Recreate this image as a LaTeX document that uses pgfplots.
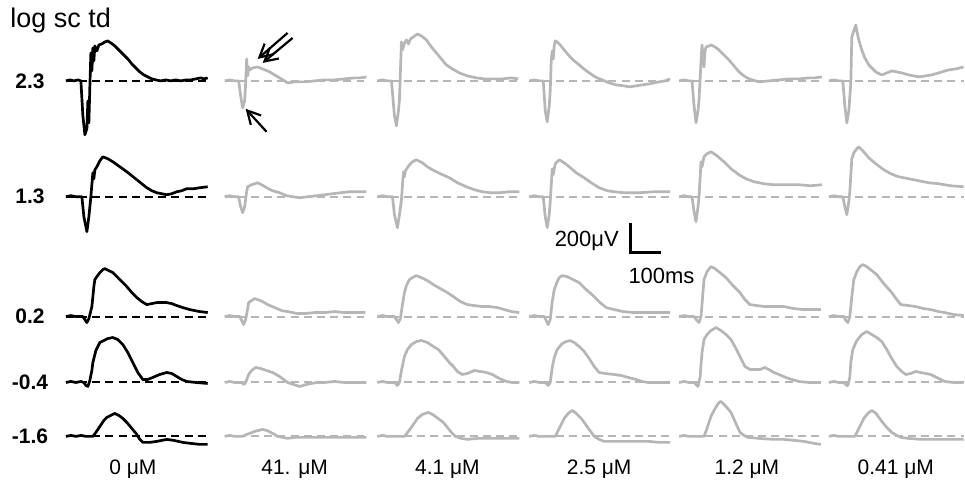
\documentclass[border=0pt]{standalone}
\usepackage{pgfplots}
\pgfplotsset{compat=1.18}
\usepackage{fontspec}
\setmainfont{Liberation Sans}
\usetikzlibrary{arrows.meta}
\definecolor{tr}{RGB}{182,182,182}

% one trace: colour, column start, baseline, rows "t v\\"
\newcommand{\trace}[4]{%
  \addplot[#1, line width=1.35pt, line join=round] table[row sep=\\, x expr=\thisrow{t}+#2, y expr=#3-\thisrow{v}] {t v\\ #4};
}
% dashed baseline: colour, x from, x to, y
\newcommand{\base}[4]{%
  \addplot[#1, line width=1pt, dash pattern=on 4pt off 2.6pt] coordinates {(#2,#4) (#3,#4)};
}
% baselines of one grey column
\newcommand{\greycol}[2]{%
  \base{tr}{#1}{#2}{81}\base{tr}{#1}{#2}{197}\base{tr}{#1}{#2}{317}\base{tr}{#1}{#2}{383}\base{tr}{#1}{#2}{437}%
}

\begin{document}
\begin{tikzpicture}
\begin{axis}[
  x=0.5pt, y=0.5pt, y dir=reverse,
  xmin=0, xmax=965, ymin=0, ymax=483,
  hide axis, clip=false, scale only axis,
]
\path (axis cs:0,0) rectangle (axis cs:965,483);

%% baselines
\base{black}{66}{208}{81}
\base{black}{66}{208}{197}
\base{black}{66}{208}{317}
\base{black}{66}{208}{383}
\base{black}{66}{208}{437}
\greycol{225}{367}
\greycol{378}{520}
\greycol{530}{671}
\greycol{680}{823}
\greycol{830}{965}

%% row 2.3
\trace{black}{66}{81}{0 0\\ 4 1\\ 8 0\\ 12 1\\ 15 0\\ 17 -35\\ 19 -54\\ 21 -48\\ 22 -20\\ 23 -42\\ 24 -5\\ 25 28\\ 26 10\\ 27 33\\ 28 20\\ 29 35\\ 31 30\\ 33 36\\ 36 37\\ 39 39\\ 42 40\\ 45 38\\ 49 35\\ 54 30\\ 58 26\\ 62 22\\ 66 17\\ 70 13\\ 74 9\\ 78 6\\ 82 4\\ 86 2\\ 90 1\\ 95 0\\ 100 1\\ 105 0\\ 110 1\\ 115 0\\ 120 1\\ 125 1\\ 130 2\\ 135 3\\ 138 2\\ 142 3\\}
\trace{tr}{225}{81}{0 0\\ 5 1\\ 10 0\\ 14 0\\ 16 -15\\ 18 -27\\ 20 -20\\ 21 -2\\ 22 22\\ 23 5\\ 24 14\\ 25 11\\ 28 13\\ 33 14\\ 38 12\\ 45 9\\ 50 6\\ 55 3\\ 60 0\\ 63 -2\\ 70 -1\\ 80 -1\\ 90 0\\ 100 1\\ 110 1\\ 120 2\\ 130 3\\ 136 3\\ 142 4\\}
\trace{tr}{378}{81}{0 0\\ 5 1\\ 10 0\\ 14 0\\ 17 -35\\ 19 -45\\ 21 -30\\ 22 -19\\ 23 10\\ 24 39\\ 25 31\\ 27 38\\ 29 41\\ 31 37\\ 33 42\\ 36 44\\ 40 47\\ 44 45\\ 49 41\\ 54 34\\ 59 28\\ 64 22\\ 69 16\\ 75 12\\ 82 8\\ 90 5\\ 99 3\\ 107 2\\ 115 2\\ 125 2\\ 134 3\\ 141 2\\}
\trace{tr}{530}{81}{0 0\\ 5 1\\ 10 0\\ 14 0\\ 16 -30\\ 18 -41\\ 20 -25\\ 21 -10\\ 22 20\\ 23 30\\ 24 22\\ 25 35\\ 26 40\\ 28 39\\ 31 36\\ 35 31\\ 40 25\\ 45 20\\ 50 16\\ 56 11\\ 63 6\\ 68 3\\ 73 1\\ 80 -2\\ 87 -4\\ 95 -5\\ 100 -6\\ 107 -5\\ 113 -4\\ 120 -3\\ 130 -1\\ 136 0\\ 141 2\\}
\trace{tr}{680}{81}{0 0\\ 5 1\\ 10 0\\ 13 0\\ 15 -25\\ 17 -42\\ 19 -30\\ 20 -19\\ 22 20\\ 23 36\\ 24 25\\ 25 14\\ 26 30\\ 27 34\\ 30 35\\ 32 36\\ 36 34\\ 40 31\\ 45 26\\ 50 21\\ 55 15\\ 60 9\\ 65 5\\ 70 2\\ 80 -1\\ 90 0\\ 100 1\\ 110 2\\ 120 2\\ 130 3\\ 136 3\\ 143 4\\}
\trace{tr}{830}{81}{0 0\\ 5 1\\ 10 0\\ 14 0\\ 16 -25\\ 18 -42\\ 20 -30\\ 22 -2\\ 23 44\\ 25 50\\ 27 56\\ 28 50\\ 30 41\\ 33 31\\ 36 23\\ 40 16\\ 44 12\\ 47 9\\ 53 6\\ 58 8\\ 63 10\\ 68 9\\ 73 8\\ 80 6\\ 90 4\\ 97 5\\ 103 6\\ 110 8\\ 120 11\\ 127 12\\ 135 14\\}

%% row 1.3
\trace{black}{66}{197}{0 0\\ 5 1\\ 10 0\\ 16 0\\ 18 -20\\ 21 -35\\ 23 -20\\ 25 0\\ 27 24\\ 28 18\\ 29 27\\ 31 30\\ 34 36\\ 37 40\\ 42 38\\ 47 35\\ 54 30\\ 61 25\\ 66 21\\ 71 17\\ 76 13\\ 81 9\\ 86 6\\ 91 4\\ 96 3\\ 101 2\\ 106 3\\ 111 5\\ 116 6\\ 121 8\\ 128 8\\ 134 9\\ 142 10\\}
\trace{tr}{225}{197}{0 0\\ 5 1\\ 10 0\\ 14 0\\ 16 -10\\ 18 -16\\ 20 -10\\ 22 5\\ 23 10\\ 27 12\\ 30 13\\ 33 14\\ 37 12\\ 42 9\\ 48 6\\ 55 4\\ 62 1\\ 68 0\\ 75 -1\\ 83 0\\ 92 1\\ 100 2\\ 108 3\\ 116 4\\ 125 5\\ 133 5\\ 142 5\\}
\trace{tr}{378}{197}{0 0\\ 5 1\\ 10 0\\ 15 0\\ 17 -18\\ 20 -31\\ 22 -18\\ 24 -3\\ 26 25\\ 27 20\\ 28 26\\ 30 29\\ 32 32\\ 35 35\\ 39 37\\ 45 34\\ 50 30\\ 55 27\\ 63 23\\ 72 19\\ 80 14\\ 89 10\\ 97 7\\ 105 5\\ 113 4\\ 122 4\\ 132 5\\ 142 5\\}
\trace{tr}{530}{197}{0 0\\ 5 1\\ 10 0\\ 14 0\\ 16 -20\\ 18 -31\\ 20 -18\\ 21 -5\\ 23 28\\ 24 22\\ 26 33\\ 30 37\\ 35 34\\ 40 30\\ 47 24\\ 55 19\\ 62 14\\ 70 9\\ 78 6\\ 85 5\\ 95 4\\ 110 4\\ 125 5\\ 141 5\\}
\trace{tr}{680}{197}{0 0\\ 5 1\\ 10 0\\ 13 0\\ 15 -15\\ 17 -25\\ 19 -10\\ 20 0\\ 22 35\\ 23 30\\ 25 40\\ 28 43\\ 32 45\\ 38 41\\ 45 35\\ 52 28\\ 60 22\\ 67 18\\ 75 15\\ 85 13\\ 95 12\\ 108 12\\ 120 12\\ 132 11\\ 143 12\\}
\trace{tr}{830}{197}{0 0\\ 5 1\\ 10 0\\ 14 0\\ 16 -10\\ 18 -18\\ 20 -5\\ 21 5\\ 23 38\\ 25 44\\ 28 48\\ 30 50\\ 34 46\\ 40 39\\ 47 33\\ 55 27\\ 62 23\\ 70 20\\ 80 18\\ 90 16\\ 100 14\\ 110 13\\ 122 11\\ 135 10\\}

%% row 0.2
\trace{black}{66}{317}{0 0\\ 5 1\\ 10 0\\ 17 0\\ 19 -3\\ 21 -6\\ 23 -2\\ 25 6\\ 26 10\\ 28 30\\ 29 37\\ 31 40\\ 34 44\\ 37 47\\ 39 48\\ 43 46\\ 47 44\\ 54 37\\ 61 30\\ 66 24\\ 71 19\\ 76 15\\ 81 12\\ 86 13\\ 91 14\\ 96 14\\ 101 14\\ 106 13\\ 111 11\\ 117 9\\ 124 7\\ 134 5\\ 142 4\\}
\trace{tr}{225}{317}{0 0\\ 5 1\\ 10 0\\ 15 0\\ 17 -4\\ 19 -8\\ 21 -3\\ 23 8\\ 24 14\\ 27 16\\ 30 18\\ 33 17\\ 38 15\\ 43 12\\ 50 9\\ 57 6\\ 63 5\\ 68 4\\ 73 3\\ 80 3\\ 90 4\\ 100 4\\ 110 5\\ 120 4\\ 130 4\\ 141 4\\}
\trace{tr}{378}{317}{0 0\\ 5 1\\ 10 0\\ 17 0\\ 19 -3\\ 21 -6\\ 23 -2\\ 25 12\\ 27 24\\ 29 31\\ 32 37\\ 35 39\\ 39 41\\ 44 39\\ 50 36\\ 56 32\\ 63 28\\ 70 24\\ 76 20\\ 83 15\\ 90 12\\ 97 11\\ 105 10\\ 112 10\\ 120 9\\ 127 7\\ 134 5\\ 142 4\\}
\trace{tr}{530}{317}{0 0\\ 5 1\\ 10 0\\ 15 0\\ 17 -4\\ 19 -8\\ 21 -3\\ 23 15\\ 25 27\\ 28 35\\ 30 39\\ 33 41\\ 38 40\\ 44 37\\ 50 34\\ 57 27\\ 65 20\\ 71 14\\ 77 9\\ 85 7\\ 94 5\\ 105 4\\ 119 4\\ 130 4\\ 141 4\\}
\trace{tr}{680}{317}{0 0\\ 5 1\\ 10 0\\ 15 0\\ 18 -4\\ 20 -6\\ 22 0\\ 24 25\\ 25 37\\ 28 45\\ 32 50\\ 36 48\\ 41 44\\ 47 39\\ 54 31\\ 61 24\\ 66 17\\ 71 12\\ 78 11\\ 86 10\\ 95 10\\ 105 10\\ 115 8\\ 125 7\\ 135 7\\ 142 7\\}
\trace{tr}{830}{317}{0 0\\ 5 1\\ 10 0\\ 15 0\\ 17 -4\\ 19 -6\\ 21 0\\ 23 20\\ 25 37\\ 28 45\\ 31 50\\ 34 52\\ 38 50\\ 43 46\\ 48 42\\ 55 33\\ 63 24\\ 68 17\\ 72 12\\ 80 11\\ 87 10\\ 95 8\\ 102 7\\ 110 5\\ 116 4\\ 125 2\\ 135 1\\}

%% row -0.4
\trace{black}{66}{383}{0 0\\ 5 1\\ 10 0\\ 15 1\\ 18 0\\ 20 -3\\ 22 -4\\ 24 2\\ 26 12\\ 27 20\\ 30 32\\ 34 40\\ 38 42\\ 42 44\\ 47 45\\ 52 43\\ 57 38\\ 62 30\\ 67 20\\ 72 10\\ 77 3\\ 82 3\\ 87 5\\ 94 8\\ 101 10\\ 106 9\\ 111 6\\ 116 3\\ 121 1\\ 130 0\\ 142 -1\\}
\trace{tr}{225}{383}{0 0\\ 5 1\\ 10 0\\ 17 0\\ 19 -2\\ 21 0\\ 24 8\\ 27 12\\ 31 15\\ 36 14\\ 42 12\\ 48 10\\ 55 6\\ 63 0\\ 69 -2\\ 75 -4\\ 82 -2\\ 92 0\\ 100 0\\ 110 1\\ 120 0\\ 130 0\\ 142 0\\}
\trace{tr}{378}{383}{0 0\\ 5 1\\ 10 0\\ 17 0\\ 20 -3\\ 22 0\\ 24 12\\ 27 26\\ 30 33\\ 34 38\\ 39 41\\ 44 42\\ 50 40\\ 56 36\\ 61 33\\ 67 26\\ 72 20\\ 76 16\\ 80 11\\ 85 8\\ 90 9\\ 97 12\\ 103 11\\ 109 10\\ 115 8\\ 122 4\\ 129 1\\ 135 0\\ 142 0\\}
\trace{tr}{530}{383}{0 0\\ 5 1\\ 10 0\\ 16 0\\ 19 -3\\ 21 0\\ 23 15\\ 25 25\\ 28 33\\ 33 39\\ 37 41\\ 41 42\\ 45 40\\ 50 36\\ 55 31\\ 60 24\\ 65 16\\ 70 10\\ 76 9\\ 85 8\\ 92 7\\ 99 5\\ 107 3\\ 113 1\\ 119 0\\ 130 0\\ 141 0\\}
\trace{tr}{680}{383}{0 0\\ 5 1\\ 10 0\\ 15 0\\ 18 -3\\ 19 -4\\ 21 5\\ 23 30\\ 25 43\\ 28 48\\ 32 52\\ 37 55\\ 42 52\\ 47 48\\ 52 43\\ 57 34\\ 62 24\\ 66 16\\ 71 13\\ 76 13\\ 81 13\\ 86 15\\ 90 13\\ 95 10\\ 100 8\\ 107 5\\ 113 3\\ 120 1\\ 130 0\\ 142 0\\}
\trace{tr}{830}{383}{0 0\\ 5 1\\ 10 0\\ 15 0\\ 18 -3\\ 19 -3\\ 21 5\\ 22 20\\ 24 33\\ 28 42\\ 33 48\\ 38 51\\ 43 48\\ 48 45\\ 53 41\\ 58 33\\ 63 24\\ 68 16\\ 73 11\\ 77 8\\ 82 9\\ 87 11\\ 92 10\\ 97 9\\ 102 8\\ 108 5\\ 116 1\\ 125 0\\ 135 0\\}

%% row -1.6
\trace{black}{66}{437}{0 0\\ 5 1\\ 10 0\\ 15 1\\ 20 0\\ 27 0\\ 30 4\\ 34 10\\ 38 16\\ 41 19\\ 45 21\\ 49 23\\ 53 21\\ 57 18\\ 61 14\\ 66 8\\ 71 2\\ 74 -3\\ 77 -6\\ 84 -6\\ 91 -5\\ 96 -4\\ 101 -3\\ 108 -4\\ 117 -6\\ 125 -7\\ 134 -8\\ 142 -8\\}
\trace{tr}{225}{437}{0 0\\ 5 1\\ 10 0\\ 18 0\\ 22 2\\ 25 3\\ 30 5\\ 34 6\\ 38 7\\ 42 6\\ 46 4\\ 50 2\\ 53 0\\ 58 -1\\ 63 -2\\ 70 -1\\ 80 -1\\ 90 -1\\ 100 -1\\ 110 -1\\ 120 -1\\ 130 -1\\ 142 -1\\}
\trace{tr}{378}{437}{0 0\\ 5 1\\ 10 0\\ 20 0\\ 27 0\\ 31 5\\ 36 12\\ 40 18\\ 45 22\\ 51 24\\ 55 22\\ 58 20\\ 62 17\\ 66 14\\ 70 9\\ 74 4\\ 78 0\\ 84 -2\\ 90 -3\\ 100 -2\\ 110 -2\\ 120 -2\\ 130 -2\\ 142 -2\\}
\trace{tr}{530}{437}{0 0\\ 5 1\\ 10 0\\ 20 0\\ 26 0\\ 30 8\\ 35 18\\ 39 23\\ 43 26\\ 46 24\\ 48 22\\ 52 18\\ 55 14\\ 60 7\\ 65 0\\ 70 -3\\ 75 -5\\ 90 -5\\ 105 -5\\ 120 -5\\ 130 -6\\ 141 -6\\}
\trace{tr}{680}{437}{0 0\\ 5 1\\ 10 0\\ 20 0\\ 25 0\\ 28 8\\ 32 20\\ 35 26\\ 38 31\\ 40 34\\ 42 35\\ 44 33\\ 47 30\\ 52 24\\ 56 15\\ 61 4\\ 65 1\\ 69 -1\\ 80 -2\\ 95 -3\\ 105 -3\\ 115 -4\\ 125 -5\\ 135 -7\\ 142 -8\\}
\trace{tr}{830}{437}{0 0\\ 5 1\\ 10 0\\ 20 0\\ 26 0\\ 30 8\\ 35 18\\ 39 23\\ 43 26\\ 46 24\\ 48 22\\ 53 15\\ 58 9\\ 63 4\\ 68 1\\ 72 -1\\ 80 -2\\ 92 -3\\ 102 -3\\ 115 -3\\ 125 -3\\ 135 -3\\}

%% arrows on the 41 uM trace
\draw[black, line width=1.1pt, -{Straight Barb[length=6.5pt,width=7pt]}] (axis cs:288,33) -- (axis cs:258,59);
\draw[black, line width=1.1pt, -{Straight Barb[length=6.5pt,width=7pt]}] (axis cs:293,38) -- (axis cs:263,63);
\draw[black, line width=1.1pt, -{Straight Barb[length=6.5pt,width=7pt]}] (axis cs:267,132) -- (axis cs:246,109);

%% scale bar
\draw[black, line width=1.5pt] (axis cs:631,223) -- (axis cs:631,253) -- (axis cs:662,253);
\node[anchor=east, font=\fontsize{11}{13}\selectfont, inner sep=0pt] at (axis cs:620,241) {200μV};
\node[anchor=west, font=\fontsize{11}{13}\selectfont, inner sep=0pt] at (axis cs:629,276) {100ms};

%% labels
\node[anchor=west, font=\fontsize{13.5}{16}\selectfont, inner sep=0pt] at (axis cs:10,21) {log sc td};
\node[font=\bfseries\fontsize{10.5}{12}\selectfont, inner sep=0pt] at (axis cs:30,81) {2.3};
\node[font=\bfseries\fontsize{10.5}{12}\selectfont, inner sep=0pt] at (axis cs:30,197) {1.3};
\node[font=\bfseries\fontsize{10.5}{12}\selectfont, inner sep=0pt] at (axis cs:30,317) {0.2};
\node[font=\bfseries\fontsize{10.5}{12}\selectfont, inner sep=0pt] at (axis cs:30,383) {-0.4};
\node[font=\bfseries\fontsize{10.5}{12}\selectfont, inner sep=0pt] at (axis cs:30,437) {-1.6};
\node[font=\fontsize{10.5}{12}\selectfont, inner sep=0pt] at (axis cs:133,470) {0 μM};
\node[font=\fontsize{10.5}{12}\selectfont, inner sep=0pt] at (axis cs:295,470) {41. μM};
\node[font=\fontsize{10.5}{12}\selectfont, inner sep=0pt] at (axis cs:448,470) {4.1 μM};
\node[font=\fontsize{10.5}{12}\selectfont, inner sep=0pt] at (axis cs:600,470) {2.5 μM};
\node[font=\fontsize{10.5}{12}\selectfont, inner sep=0pt] at (axis cs:748,470) {1.2 μM};
\node[font=\fontsize{10.5}{12}\selectfont, inner sep=0pt] at (axis cs:897,470) {0.41 μM};
\end{axis}
\end{tikzpicture}
\end{document}
